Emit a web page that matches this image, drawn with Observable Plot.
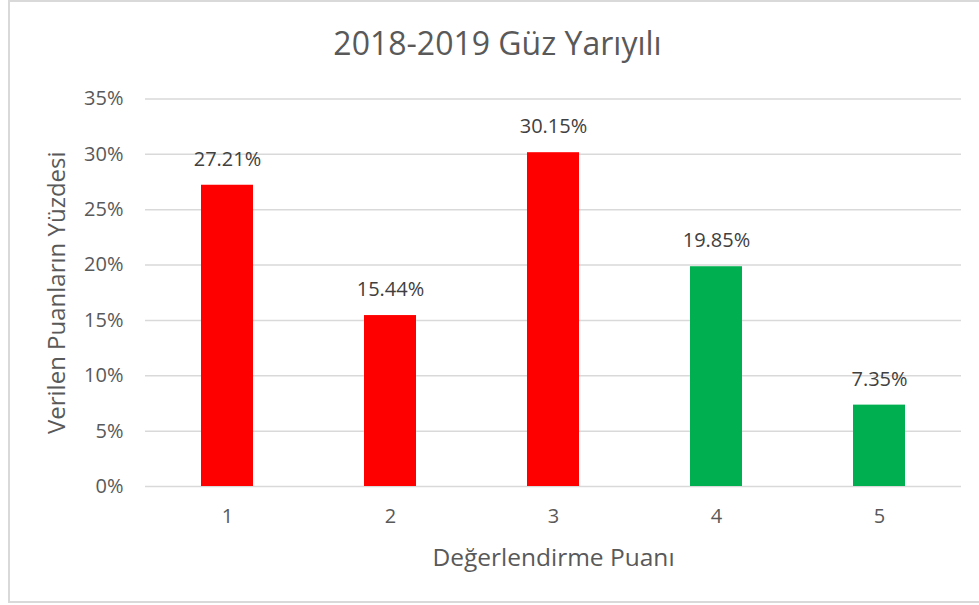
<!DOCTYPE html>
<html>
<head>
<meta charset="utf-8">
<script src="https://cdn.jsdelivr.net/npm/d3@7"></script>
<script src="https://cdn.jsdelivr.net/npm/@observablehq/plot@0.6"></script>
<style>
  html, body { margin: 0; padding: 0; background: #fff; }
  body { width: 979px; height: 605px; position: relative; overflow: hidden; font-family: "Open Sans", sans-serif; }
  #frame { position: absolute; left: 8px; top: 0px; width: 976px; height: 603px; border: 2px solid #d9d9d9; box-sizing: border-box; }
  #title { position: absolute; left: 0px; width: 995px; top: 27px; line-height: 32px; text-align: center; font-size: 32px; color: #595959; }
  #chart { position: absolute; left: 0; top: 0; }
</style>
</head>
<body>
<div id="frame"></div>
<div id="chart"></div>
<div id="title">2018-2019 Güz Yarıyılı</div>
<script>
const categories = ["1", "2", "3", "4", "5"];
const values = [0.2721, 0.1544, 0.3015, 0.1985, 0.0735];
const barColors = ["#FF0000", "#FF0000", "#FF0000", "#00B050", "#00B050"];
const yTicks = [0, 0.05, 0.10, 0.15, 0.20, 0.25, 0.30, 0.35];

const data = categories.map((c, i) => ({cat: c, value: values[i], color: barColors[i]}));
const pct2 = d3.format(".2%");
const pct0 = d3.format(".0%");

const chart = Plot.plot({
  width: 979,
  height: 605,
  marginLeft: 145,
  marginRight: 18,
  marginTop: 98.5,
  marginBottom: 119,
  style: {fontFamily: "Open Sans, sans-serif", fontSize: "20px", color: "#595959", background: "transparent"},
  x: {domain: categories, paddingInner: 0.68, paddingOuter: 0.34, label: null},
  y: {domain: [0, 0.35], label: null},
  marks: [
    Plot.ruleY(yTicks, {stroke: "#d9d9d9", strokeWidth: 1.5}),
    Plot.barY(data, {x: "cat", y: "value", fill: d => d.color}),
    Plot.text(data, {x: "cat", y: "value", text: d => pct2(d.value), dy: -26, lineAnchor: "middle", fill: "#404040", fontSize: 20}),
    Plot.axisY(yTicks, {tickFormat: pct0, tickSize: 0, tickPadding: 22, fill: "#595959", fontSize: 20, label: null}),
    Plot.axisX({tickSize: 0, tickPadding: 22, fill: "#595959", fontSize: 20, label: null}),
    Plot.text(["Verilen Puanların Yüzdesi"], {frameAnchor: "left", dx: -88, rotate: -90, textAnchor: "middle", lineAnchor: "middle", fill: "#595959", fontSize: 24}),
    Plot.text(["Değerlendirme Puanı"], {frameAnchor: "bottom", dy: 72, lineAnchor: "middle", fill: "#595959", fontSize: 24.5})
  ]
});
document.getElementById("chart").appendChild(chart);
</script>
</body>
</html>
